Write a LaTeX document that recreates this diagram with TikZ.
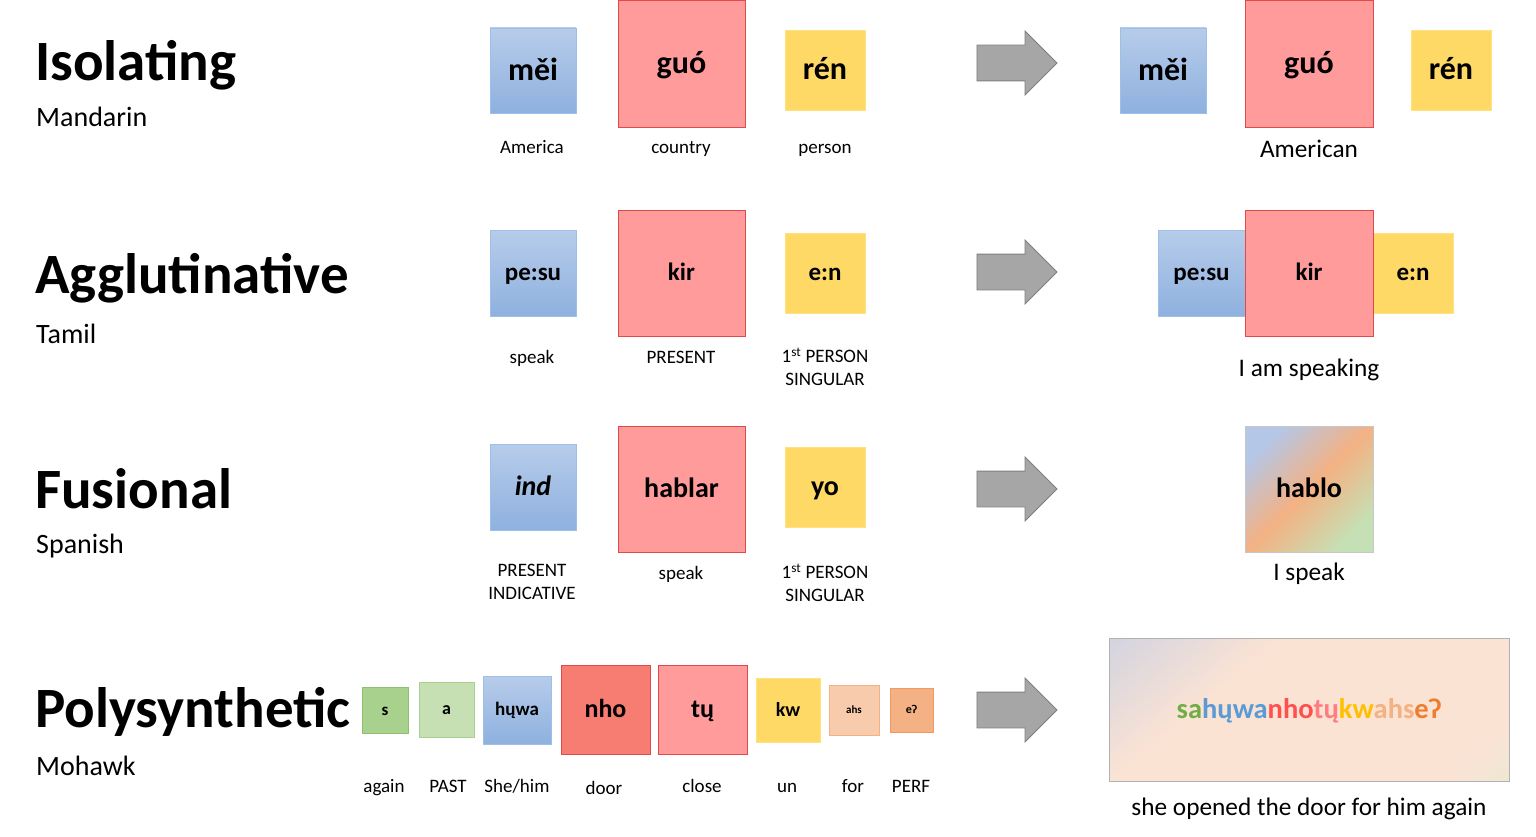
\documentclass[tikz,border=0pt]{standalone}
\usepackage{fontspec}
\setmainfont{Carlito}
\usetikzlibrary{shapes.arrows,positioning}
\definecolor{BlueTop}{HTML}{B7CCEA}
\definecolor{BlueBot}{HTML}{8EB1DF}
\definecolor{BlueLine}{HTML}{9DC0E6}
\definecolor{RedFill}{HTML}{FF9B9B}
\definecolor{RedLine}{HTML}{E04A4A}
\definecolor{DarkRedFill}{HTML}{F77C72}
\definecolor{YellowFill}{HTML}{FFD966}
\definecolor{YellowLine}{HTML}{FFE27F}
\definecolor{GreenFill}{HTML}{A9D18E}
\definecolor{GreenLine}{HTML}{8DC16E}
\definecolor{LightGreenFill}{HTML}{C6E0B4}
\definecolor{PeachFill}{HTML}{F8CBAD}
\definecolor{PeachLine}{HTML}{F4B183}
\definecolor{OrangeFill}{HTML}{F4B183}
\definecolor{OrangeLine}{HTML}{EE9A62}
\definecolor{ArrowFill}{HTML}{A6A6A6}
\definecolor{ArrowLine}{HTML}{7F7F7F}
\definecolor{MixBlue}{HTML}{B4C7E7}
\definecolor{MixOrange}{HTML}{F4B183}
\definecolor{MixGreen}{HTML}{C5E0B4}
\definecolor{PaleBlue}{HTML}{B6C9E8}
\definecolor{PalePeach}{HTML}{FBE3D4}
\definecolor{PaleGreen}{HTML}{DDEED2}
\definecolor{TxtGreen}{HTML}{70AD47}
\definecolor{TxtBlue}{HTML}{5B9BD5}
\definecolor{TxtRed}{HTML}{FF4F4F}
\definecolor{TxtPink}{HTML}{FF7C80}
\definecolor{TxtGold}{HTML}{FFC000}
\definecolor{TxtPeach}{HTML}{F4B183}
\definecolor{TxtOrange}{HTML}{ED7D31}
\pgfdeclareverticalshading{PolyFade}{100bp}{color(0bp)=(PaleGreen); color(24bp)=(PalePeach); color(64bp)=(PalePeach); color(100bp)=(PaleBlue)}

\begin{document}
\begin{tikzpicture}[x=1pt,y=-1pt]
    \useasboundingbox (0,0) rectangle (1536,837);
    \tikzset{TitleStyle/.style = {anchor=base west, inner sep=0pt,
        font=\fontsize{57}{60}\selectfont\bfseries},
      LangStyle/.style = {anchor=base west, inner sep=0pt,
        font=\fontsize{28}{30}\selectfont},
      MorphBox/.style = {rectangle, inner sep=0pt, line width=0.8pt},
      Pt/.style = {font=\fontsize{#1}{#1}\selectfont\bfseries,
        text height=#1*0.8pt, text depth=#1*0.2pt},
      BlueBox/.style = {MorphBox, top color=BlueTop, bottom color=BlueBot, draw=BlueLine},
      RedBox/.style = {MorphBox, fill=RedFill, draw=RedLine},
      YellowBox/.style = {MorphBox, fill=YellowFill, draw=YellowLine},
      GlossStyle/.style = {anchor=base, inner sep=0pt, align=center,
        font=\fontsize{19}{23}\selectfont},
      MeanStyle/.style = {anchor=base, inner sep=0pt,
        font=\fontsize{25.3}{28}\selectfont},
      BigArrow/.style = {single arrow, draw=ArrowLine, fill=ArrowFill, line width=0.8pt,
        minimum height=80pt, inner xsep=0pt, inner ysep=17.5pt,
        single arrow head extend=14pt}}

    % titles
    \node[TitleStyle] (isolating) at (35,81) {Isolating};
    \node[LangStyle] (mandarin) at (36,127) {Mandarin};
    \node[TitleStyle] (agglutinative) at (35,293) {Agglutinative};
    \node[LangStyle] (tamil) at (36,343) {Tamil};
    \node[TitleStyle] (fusional) at (35,508) {Fusional};
    \node[LangStyle] (spanish) at (36,553) {Spanish};
    \node[TitleStyle] (polysynthetic) at (35,727) {Polysynthetic};
    \node[LangStyle] (mohawk) at (36,775) {Mohawk};

    % isolating
    \node[BlueBox, minimum width=86pt, minimum height=85pt, Pt=32] (mei) at (533,70.5) {měi};
    \node[RedBox, minimum width=127pt, minimum height=127pt, Pt=32] (guo) at (681.5,63.5) {guó};
    \node[YellowBox, minimum width=80pt, minimum height=80pt, Pt=32] (ren) at (825,70) {rén};
    \node[GlossStyle] (america) at (532,154) {America};
    \node[GlossStyle] (country) at (681,154) {country};
    \node[GlossStyle] (person) at (825,154) {person};
    \node[BigArrow] (arrA) at (1008,63) {};
    \node[BlueBox, minimum width=86pt, minimum height=85pt, Pt=32] (meiB) at (1163,70.5) {měi};
    \node[RedBox, minimum width=128pt, minimum height=127pt, Pt=32] (guoB) at (1309,63.5) {guó};
    \node[YellowBox, minimum width=80pt, minimum height=80pt, Pt=32] (renB) at (1451,70) {rén};
    \node[MeanStyle] (american) at (1309,158) {American};

    % agglutinative
    \node[BlueBox, minimum width=86pt, minimum height=86pt, Pt=25] (pesu) at (533,273) {pe:su};
    \node[RedBox, minimum width=127pt, minimum height=126pt, Pt=25] (kir) at (681.5,273) {kir};
    \node[YellowBox, minimum width=80pt, minimum height=80pt, Pt=25] (en) at (825,273) {e:n};
    \node[GlossStyle] (speakA) at (532,363) {speak};
    \node[GlossStyle] (present) at (681,363) {PRESENT};
    \node[GlossStyle, anchor=north] (firstA) at (825,348) {1\textsuperscript{st} PERSON\\SINGULAR};
    \node[BigArrow] (arrB) at (1008,272) {};
    \node[BlueBox, minimum width=87pt, minimum height=86pt, Pt=25] (pesuB) at (1201.5,273) {pe:su};
    \node[YellowBox, minimum width=80pt, minimum height=80pt, Pt=25] (enB) at (1413,273) {e:n};
    \node[RedBox, minimum width=128pt, minimum height=126pt, Pt=25] (kirB) at (1309,273) {kir};
    \node[MeanStyle] (speaking) at (1309,376) {I am speaking};

    % fusional
    \node[BlueBox, minimum width=86pt, minimum height=86pt, Pt=28, font=\fontsize{28}{28}\selectfont\bfseries\itshape] (ind) at (533,487) {ind};
    \node[RedBox, minimum width=127pt, minimum height=126pt, Pt=28] (hablar) at (681.5,489) {hablar};
    \node[YellowBox, minimum width=80pt, minimum height=80pt, Pt=28] (yo) at (825,487) {yo};
    \node[GlossStyle, anchor=north] (indicative) at (532,564) {PRESENT\\INDICATIVE};
    \node[GlossStyle] (speakB) at (681,579) {speak};
    \node[GlossStyle, anchor=north] (firstB) at (825,564) {1\textsuperscript{st} PERSON\\SINGULAR};
    \node[BigArrow] (arrC) at (1008,489) {};
    \node[MorphBox, draw=black!22, top color=MixBlue, bottom color=MixGreen,
      middle color=MixOrange, shading angle=45, minimum width=128pt,
      minimum height=126pt, Pt=28] (hablo) at (1309,489) {hablo};
    \node[MeanStyle] (ispeak) at (1309,580) {I speak};

    % polysynthetic
    \node[MorphBox, fill=GreenFill, draw=GreenLine, minimum size=46pt, Pt=17] (s) at (385,710) {s};
    \node[MorphBox, fill=LightGreenFill, draw=GreenFill, minimum size=55pt, Pt=18] (a) at (446.5,709.5) {a};
    \node[BlueBox, minimum size=68pt, Pt=19] (huwa) at (517,710) {hųwa};
    \node[MorphBox, fill=DarkRedFill, draw=RedLine, minimum size=89pt, Pt=26] (nho) at (605.5,709.5) {nho};
    \node[RedBox, minimum size=89pt, Pt=26] (tu) at (702.5,709.5) {tų};
    \node[YellowBox, minimum size=64pt, Pt=20] (kw) at (788,710) {kw};
    \node[MorphBox, fill=PeachFill, draw=PeachLine, minimum size=50pt, Pt=11] (ahs) at (854,710) {ahs};
    \node[MorphBox, fill=OrangeFill, draw=OrangeLine, minimum width=43pt, minimum height=44pt, Pt=12] (e) at (911.5,710) {eʔ};
    \node[GlossStyle] (again) at (384,792) {again};
    \node[GlossStyle] (past) at (448,792) {PAST};
    \node[GlossStyle] (shehim) at (517,792) {She/him};
    \node[GlossStyle] (door) at (604,794) {door};
    \node[GlossStyle] (close) at (702,792) {close};
    \node[GlossStyle] (un) at (787,792) {un};
    \node[GlossStyle] (for) at (853,792) {for};
    \node[GlossStyle] (perf) at (911,792) {PERF};
    \node[BigArrow] (arrD) at (1008,710) {};
    \node[MorphBox, draw=black!30, shading=PolyFade, shading angle=40, minimum width=400pt,
      minimum height=143pt, Pt=28.5] (word) at (1309,709.5)
      {\textcolor{TxtGreen}{sa}\textcolor{TxtBlue}{hųwa}\textcolor{TxtRed}{nho}\textcolor{TxtPink}{tų}\textcolor{TxtGold}{kw}\textcolor{TxtPeach}{ahs}\textcolor{TxtOrange}{eʔ}};
    \node[MeanStyle] (sentence) at (1309,815) {she opened the door for him again};
  \end{tikzpicture}
\end{document}
